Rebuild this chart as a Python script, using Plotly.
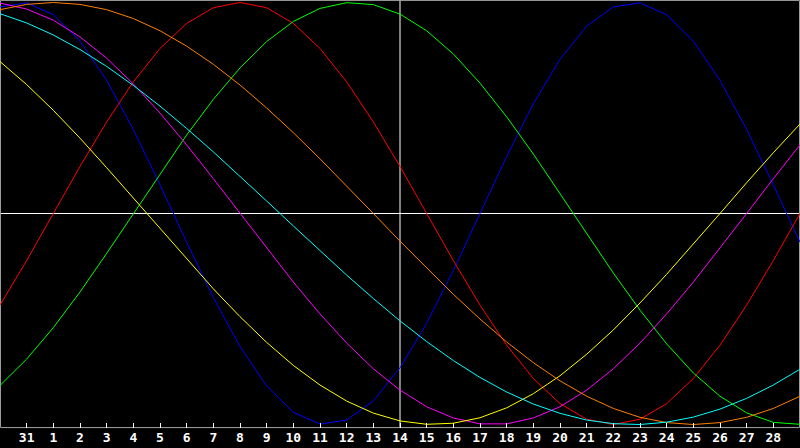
import plotly.graph_objects as go

# Day labels of the 31 sampled points (Jan 30 .. Mar 1); ticks are shown for Jan 31 .. Feb 28
point_days = ["30", "31"] + [str(d) for d in range(1, 29)] + ["1"]
tick_labels = ["31"] + [str(d) for d in range(1, 29)]
today_label = "14"

physical = [0.979, 0.998, 0.942, 0.817, 0.631, 0.398, 0.136, -0.136, -0.398, -0.631, -0.817,
            -0.942, -0.998, -0.979, -0.888, -0.731, -0.520, -0.270, 0.0, 0.270, 0.520,
            0.731, 0.888, 0.979, 0.998, 0.942, 0.817, 0.631, 0.398, 0.136, -0.136]
emotional = [-0.434, -0.223, 0.0, 0.223, 0.434, 0.624, 0.782, 0.901, 0.975, 1.0, 0.975,
             0.901, 0.782, 0.624, 0.434, 0.223, 0.0, -0.223, -0.434, -0.624, -0.782,
             -0.901, -0.975, -1.0, -0.975, -0.901, -0.782, -0.624, -0.434, -0.223, 0.0]
intellectual = [-0.815, -0.690, -0.541, -0.372, -0.189, 0.0, 0.189, 0.372, 0.541, 0.690, 0.815,
                0.910, 0.972, 0.999, 0.990, 0.945, 0.866, 0.756, 0.618, 0.458, 0.282,
                0.095, -0.095, -0.282, -0.458, -0.618, -0.756, -0.866, -0.945, -0.990, -0.999]
intuitive = [0.997, 0.969, 0.916, 0.837, 0.736, 0.614, 0.476, 0.325, 0.165, 0.0, -0.165,
             -0.325, -0.476, -0.614, -0.736, -0.837, -0.916, -0.969, -0.997, -0.997, -0.969,
             -0.916, -0.837, -0.736, -0.614, -0.476, -0.325, -0.165, 0.0, 0.165, 0.325]
aesthetic = [0.720, 0.611, 0.489, 0.357, 0.217, 0.073, -0.073, -0.217, -0.357, -0.489, -0.611,
             -0.720, -0.813, -0.889, -0.946, -0.983, -0.999, -0.994, -0.968, -0.921, -0.854,
             -0.769, -0.667, -0.552, -0.424, -0.288, -0.146, 0.0, 0.146, 0.288, 0.424]
awareness = [0.966, 0.991, 1.0, 0.991, 0.966, 0.924, 0.866, 0.793, 0.707, 0.609, 0.5,
             0.383, 0.259, 0.131, 0.0, -0.131, -0.259, -0.383, -0.5, -0.609, -0.707,
             -0.793, -0.866, -0.924, -0.966, -0.991, -1.0, -0.991, -0.966, -0.924, -0.866]
spiritual = [0.947, 0.903, 0.846, 0.777, 0.697, 0.607, 0.509, 0.403, 0.292, 0.177, 0.059,
             -0.059, -0.177, -0.292, -0.403, -0.509, -0.607, -0.697, -0.777, -0.846, -0.903,
             -0.947, -0.979, -0.996, -1.0, -0.989, -0.965, -0.927, -0.876, -0.813, -0.738]

series = [
    ("Physical", physical, "#0000ff"),
    ("Emotional", emotional, "#ff0000"),
    ("Intellectual", intellectual, "#00ff00"),
    ("Intuitive", intuitive, "#ff00ff"),
    ("Aesthetic", aesthetic, "#ffff00"),
    ("Awareness", awareness, "#ff8000"),
    ("Spiritual", spiritual, "#00ffff"),
]

xpos = list(range(len(point_days)))
tick_pos = [point_days.index("31") + k for k in range(len(tick_labels))]
today_x = tick_pos[tick_labels.index(today_label)]

fig = go.Figure()
for name, vals, color in series:
    fig.add_trace(go.Scatter(x=xpos, y=vals, mode="lines", name=name,
                             line=dict(color=color, width=1), hoverinfo="skip"))

fig.add_shape(type="line", xref="paper", yref="y", x0=0, x1=1, y0=0, y1=0,
              line=dict(color="white", width=1), layer="below")
fig.add_vline(x=today_x, line=dict(color="white", width=1), layer="below")
# grey frame
fig.add_shape(type="rect", xref="paper", yref="paper", x0=0.0006, x1=0.9994, y0=0.001, y1=0.999,
              line=dict(color="#a0a0a0", width=1), layer="below")

fig.update_layout(
    width=800, height=448,
    margin=dict(l=0, r=0, t=0, b=20),
    paper_bgcolor="black", plot_bgcolor="black",
    showlegend=False,
    xaxis=dict(range=[0, 30], tickvals=tick_pos, ticktext=tick_labels,
               ticks="inside", ticklen=5, tickcolor="white", tickwidth=1,
               tickfont=dict(family="DejaVu Sans Mono", size=13, color="white", weight="bold"),
               showgrid=False, zeroline=False, showline=False, fixedrange=True),
    yaxis=dict(range=[-1.0166, 1.0118], showticklabels=False, ticks="",
               showgrid=False, zeroline=False, showline=False, fixedrange=True),
)

post = "document.body.style.margin='0px';document.body.style.background='black';"
fig.write_html("out.html", config={"displayModeBar": False}, post_script=post)
